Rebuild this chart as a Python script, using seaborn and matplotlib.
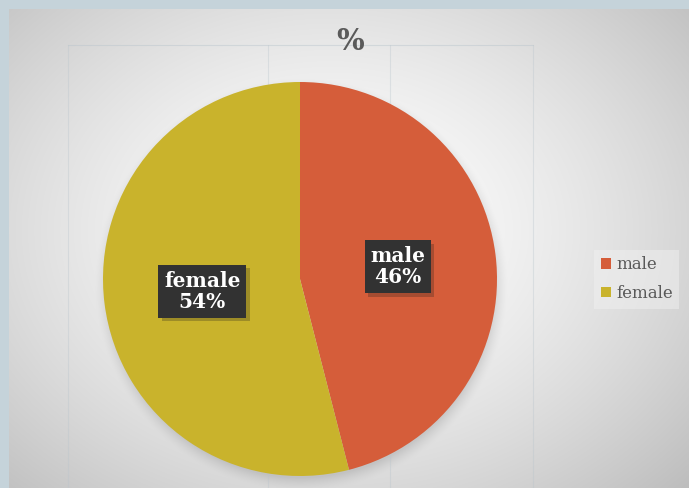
import numpy as np
import matplotlib
matplotlib.use("Agg")
import matplotlib.pyplot as plt
import matplotlib.patheffects as pe
from matplotlib.patches import Patch
import seaborn as sns

# ---- data ----
categories = ["male", "female"]
values = [46, 54]
title = "%"

sns.set_theme(style="white")
colors = sns.color_palette(["#D55D3A", "#C9B32C"])
plt.rcParams['font.family'] = ['DejaVu Serif', 'DejaVu Sans']

W, H = 689, 488
fig = plt.figure(figsize=(W / 100, H / 100), dpi=100)

# ---- background: radial gradient, pie shadow, border ----
bg = fig.add_axes([0, 0, 1, 1])
bg.axis('off')
yy, xx = np.mgrid[0:H, 0:W].astype(float)
t = np.sqrt(((xx - 330) / 470) ** 2 + ((yy - 230) / 360) ** 2)
lum = 255 - 62 * np.clip(t, 0, 1.2) ** 1.5
d = np.sqrt((xx - 301) ** 2 + (yy - 284) ** 2)
shadow = np.clip(1 - (d - 193) / 14, 0, 1) ** 1.5
lum = lum * (1 - 0.12 * shadow)
img = np.stack([lum, lum, lum], axis=-1) / 255.0
img = np.clip(img, 0, 1)
border = np.array([197, 211, 218]) / 255.0
img[:9, :] = border
img[:, :9] = border
bg.imshow(img, extent=[0, W, H, 0], aspect='auto', interpolation='bilinear')
bg.set_xlim(0, W)
bg.set_ylim(H, 0)

# faint gridlines
for x in [68, 268, 390, 533]:
    bg.plot([x, x], [45, H], color='#b8c4cc', lw=0.8, alpha=0.35, zorder=1)
bg.plot([68, 533], [45, 45], color='#b8c4cc', lw=0.8, alpha=0.45, zorder=1)

# ---- pie ----
ax = fig.add_axes([103 / W, 12 / H, 394 / W, 394 / H])
ax.set_facecolor('none')
wedges, _ = ax.pie(values, colors=colors, startangle=90, counterclock=False,
                   radius=1, wedgeprops=dict(linewidth=0))
ax.set_xlim(-1, 1)
ax.set_ylim(-1, 1)
ax.set_aspect('equal')

for w, cat, v in zip(wedges, categories, values):
    ang = np.deg2rad((w.theta1 + w.theta2) / 2)
    x, y = 0.5 * np.cos(ang), 0.5 * np.sin(ang)
    txt = ax.text(x, y, f"{cat}\n{v}%", ha='center', va='center', color='white',
                  fontsize=14.5, fontweight='bold', linespacing=1.1,
                  bbox=dict(boxstyle='square,pad=0.28', fc='#323232', ec='none'))
    txt.get_bbox_patch().set_path_effects(
        [pe.withSimplePatchShadow(offset=(2.5, -2.5), shadow_rgbFace='k', alpha=0.25)])

# ---- title ----
fig.text(350 / W, 1 - 41 / H, title, ha='center', va='center', fontsize=21,
         fontweight='bold', color='#5a5a5a')

# ---- legend ----
handles = [Patch(facecolor=c, edgecolor='none') for c in colors]
leg = fig.legend(handles, categories, loc='center left',
                 bbox_to_anchor=(586 / W, 1 - 279 / H), frameon=True,
                 prop=dict(size=12), labelcolor='#595959',
                 handlelength=0.6, handleheight=0.6, handletextpad=0.3,
                 labelspacing=0.7, borderaxespad=0.5, fancybox=False)
leg.get_frame().set_facecolor('#f0f0f0')
leg.get_frame().set_alpha(0.5)
leg.get_frame().set_edgecolor('none')

fig.savefig("out.png", dpi=100)
